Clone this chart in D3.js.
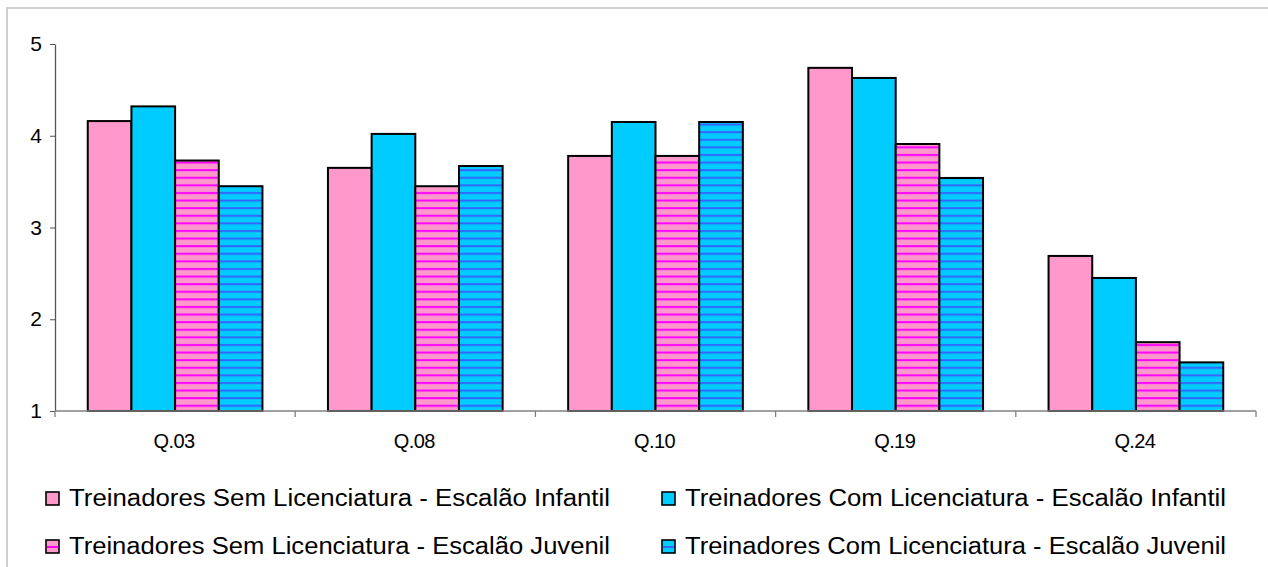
<!DOCTYPE html>
<html>
<head>
<meta charset="utf-8">
<script src="https://cdn.jsdelivr.net/npm/d3@7"></script>
<style>
  html, body { margin: 0; padding: 0; background: #fff; }
  svg { display: block; font-family: "Liberation Sans", Arial, sans-serif; }
</style>
</head>
<body>
<svg id="chart" width="1268" height="567"></svg>
<script>
// Questions on the x axis
const categories = ["Q.03", "Q.08", "Q.10", "Q.19", "Q.24"];

// Series names (legend order: row by row)
const seriesNames = [
  "Treinadores Sem Licenciatura - Escalão Infantil",
  "Treinadores Com Licenciatura - Escalão Infantil",
  "Treinadores Sem Licenciatura - Escalão Juvenil",
  "Treinadores Com Licenciatura - Escalão Juvenil"
];

// Mean scores per question, one array per series
const semInfantil = [4.16, 3.65, 3.78, 4.74, 2.69];
const comInfantil = [4.32, 4.02, 4.15, 4.63, 2.45];
const semJuvenil  = [3.73, 3.45, 3.78, 3.91, 1.75];
const comJuvenil  = [3.45, 3.67, 4.15, 3.54, 1.53];

const yTicks = [1, 2, 3, 4, 5];

const seriesValues = [semInfantil, comInfantil, semJuvenil, comJuvenil];
const fills = ["#ff99cc", "#00ccff", "url(#stripePink)", "url(#stripeBlue)"];

const svg = d3.select("#chart");

// Outer chart-area frame
svg.append("rect")
  .attr("x", 7).attr("y", 8)
  .attr("width", 1300).attr("height", 600)
  .attr("fill", "none").attr("stroke", "#cfcfcf").attr("stroke-width", 2);

// Horizontal stripe patterns
const defs = svg.append("defs");
function stripe(id, base, line) {
  const p = defs.append("pattern")
    .attr("id", id)
    .attr("patternUnits", "userSpaceOnUse")
    .attr("width", 8).attr("height", 7.6);
  p.append("rect").attr("width", 8).attr("height", 7.6).attr("fill", base);
  p.append("rect").attr("y", 2).attr("width", 8).attr("height", 2).attr("fill", line);
}
stripe("stripePink", "#ff99cc", "#ff00ff");
stripe("stripeBlue", "#00ccff", "#3366ff");

const plotLeft = 55, plotRight = 1256, plotTop = 44, plotBottom = 411;

const y = d3.scaleLinear().domain([1, 5]).range([plotBottom, plotTop]);
const x0 = d3.scaleBand().domain(categories).range([plotLeft, plotRight]).padding(0);

// Four bars per group with a gap of 1.5 bar widths
const groupW = x0.bandwidth() * 4 / 5.5;
const groupOff = (x0.bandwidth() - groupW) / 2;
const x1 = d3.scaleBand().domain(d3.range(4)).range([groupOff, groupOff + groupW]).padding(0);

// Bars
const groups = svg.append("g").selectAll("g")
  .data(categories)
  .join("g")
  .attr("transform", d => `translate(${x0(d)},0)`);

groups.selectAll("rect")
  .data((d, i) => seriesValues.map((s, k) => ({ k, v: s[i] })))
  .join("rect")
  .attr("x", d => x1(d.k))
  .attr("y", d => y(d.v))
  .attr("width", x1.bandwidth())
  .attr("height", d => y(1) - y(d.v))
  .attr("fill", d => fills[d.k])
  .attr("stroke", "#000")
  .attr("stroke-width", 2);

// Y axis
const yAxis = svg.append("g")
  .attr("transform", `translate(${plotLeft},0)`)
  .call(d3.axisLeft(y).tickValues(yTicks).tickFormat(d3.format("d")).tickSize(5).tickSizeOuter(0));
yAxis.select(".domain").attr("stroke", "#555").attr("stroke-width", 1.3);
yAxis.selectAll(".tick line").attr("stroke", "#555");
yAxis.selectAll(".tick text")
  .attr("x", -13)
  .attr("font-size", 21)
  .attr("font-family", "'Liberation Sans', Arial, sans-serif")
  .attr("fill", "#000");

// X axis with ticks at category boundaries
const xAxis = svg.append("g").attr("transform", `translate(0,${plotBottom})`);
xAxis.append("line")
  .attr("x1", plotLeft).attr("x2", plotRight)
  .attr("stroke", "#808080").attr("stroke-width", 1.5);
const boundaries = categories.map(c => x0(c)).concat([plotRight]);
xAxis.selectAll("line.b")
  .data(boundaries)
  .join("line")
  .attr("class", "b")
  .attr("x1", d => d).attr("x2", d => d)
  .attr("y1", 0).attr("y2", 6)
  .attr("stroke", "#808080").attr("stroke-width", 1.3);
xAxis.selectAll("text")
  .data(categories)
  .join("text")
  .attr("x", d => x0(d) + x0.bandwidth() / 2 - 1)
  .attr("y", 37)
  .attr("text-anchor", "middle")
  .attr("font-size", 20)
  .attr("letter-spacing", -0.6)
  .attr("fill", "#000")
  .text(d => d);

// Legend: two columns, two rows
const legendPos = [
  { x: 46, y: 498 }, { x: 662, y: 498 },
  { x: 46, y: 546 }, { x: 662, y: 546 }
];
const legend = svg.append("g").selectAll("g")
  .data(seriesNames)
  .join("g")
  .attr("transform", (d, i) => `translate(${legendPos[i].x},${legendPos[i].y})`);

legend.append("rect")
  .attr("x", 0).attr("y", -6)
  .attr("width", 13).attr("height", 13)
  .attr("fill", (d, i) => i < 2 ? fills[i] : (i === 2 ? "#ff99cc" : "#00ccff"))
  .attr("stroke", "#000").attr("stroke-width", 1.6);
// Stripe swatch across the middle for the juvenil series
legend.filter((d, i) => i >= 2).append("rect")
  .attr("x", 0.8).attr("y", 0)
  .attr("width", 11.4).attr("height", 2)
  .attr("fill", (d, i) => i === 0 ? "#ff00ff" : "#3366ff");

legend.append("text")
  .attr("x", 23)
  .attr("y", 8)
  .attr("font-size", 23)
  .attr("fill", "#000")
  .attr("textLength", 541)
  .attr("lengthAdjust", "spacingAndGlyphs")
  .text(d => d);
</script>
</body>
</html>
